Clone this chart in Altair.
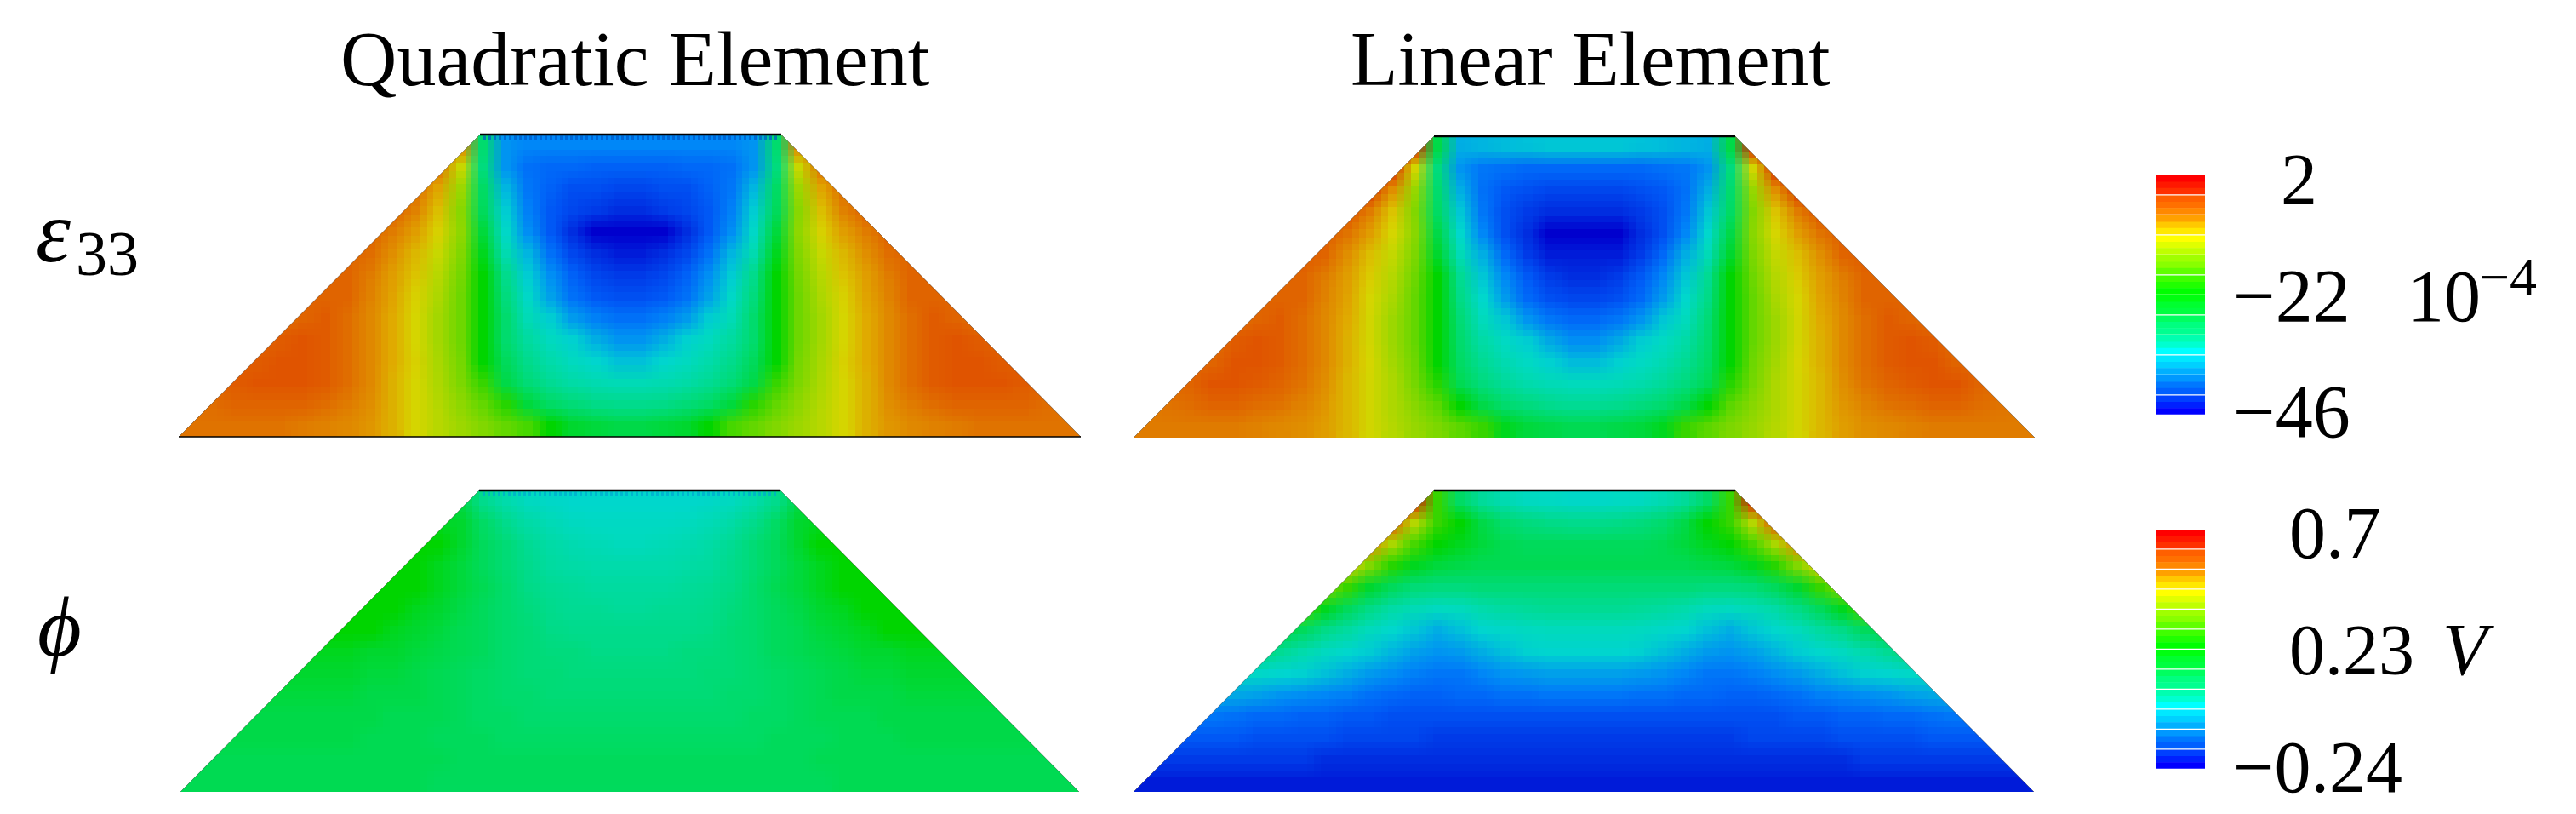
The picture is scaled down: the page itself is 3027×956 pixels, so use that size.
import altair as alt
import pandas as pd

# Field values, left half of each panel, top row first.
# Scale: 0 blue, 25 cyan, 50 green, 75 yellow, 100 red. Panels are mirror-symmetric.
EPS_QUAD = [
 [88]*13 + [42,14,12,12,12,12,12],
 [90]*12 + [72,40,14,9,8,8,7,7],
 [91]*11 + [83,64,43,19,10,7,5,5,4],
 [92]*10 + [88,79,61,44,23,11,6,4,3,2],
 [92]*9 + [89,84,76,62,47,27,13,6,2,0,0],
 [92]*8 + [91,86,80,72,60,49,32,19,9,4,2,1],
 [92]*7 + [92,89,84,78,69,58,50,38,23,13,7,4,3],
 [92]*6 + [92,92,88,83,76,67,57,50,40,27,16,9,6,5],
 [91]*5 + [92,93,91,87,82,75,65,57,50,42,31,23,15,11,9],
 [92]*4 + [93,94,93,91,87,82,75,65,57,50,42,35,29,24,18,14],
 [93]*4 + [94,94,93,91,87,82,76,66,58,50,44,38,33,29,25,21],
 [92,92,93,94,94,94,93,91,87,81,75,67,59,52,46,41,37,34,32,31],
 [90,91,92,92,92,92,91,89,86,81,75,68,62,56,51,47,43,41,39,38],
 [90,90,90,90,90,89,88,87,85,81,75,69,64,60,56,53,50,48,47,46],
]
EPS_LINEAR = [
 [98]*13 + [46,18,19,20,21,22,22],
 [97]*12 + [74,40,14,10,9,8,8,8],
 [96]*11 + [86,63,42,18,9,6,5,4,4],
 [94]*10 + [89,78,60,43,22,10,5,3,2,2],
 [93]*9 + [90,84,75,61,46,26,12,5,2,0,0],
 [93]*8 + [92,86,79,71,59,48,31,18,8,3,1,1],
 [92]*7 + [92,89,84,77,68,57,50,37,22,12,6,3,2],
 [92]*6 + [92,92,88,83,75,66,56,50,39,26,15,8,5,4],
 [91]*5 + [92,93,91,87,82,74,64,56,50,41,30,22,14,10,8],
 [91]*4 + [93,94,93,91,87,81,74,64,56,50,42,34,28,23,17,13],
 [92]*4 + [94,94,93,91,87,81,75,65,57,50,43,37,32,28,24,20],
 [91,91,92,94,94,93,92,90,86,80,74,67,58,51,45,40,36,33,31,30],
 [89,90,91,92,92,91,90,88,85,80,74,67,61,55,50,46,42,40,38,37],
 [89,89,89,89,89,88,87,86,84,80,74,68,63,59,55,52,49,47,46,45],
]
PHI_QUAD = [
 [46]*13 + [38,33,29,27,26,26,26],
 [49]*12 + [48,43,38,34,31,29,28,28],
 [50]*12 + [48,44,41,37,34,32,31,30],
 [50]*11 + [49,47,44,41,38,35,34,33,33],
 [50]*11 + [49,47,45,42,39,37,36,35,35],
 [50]*10 + [49,48,46,44,42,40,38,37,37,36],
 [50]*9 + [49,48,47,45,44,42,41,39,38,38,38],
 [49]*8 + [48,48,47,46,45,44,42,41,40,40,39,39],
 [48]*8 + [47,47,46,45,44,43,42,41,41,40,40,40],
 [47]*8 + [46,46,46,45,44,43,42,42,41,41,41,41],
 [46]*9 + [45,45,45,44,43,43,42,42,42,42,42],
 [46]*8 + [45,45,45,44,44,44,43,43,43,43,43,43],
 [45]*12 + [44,44,44,44,44,44,44,44],
 [45]*11 + [44,44,44,44,44,44,44,44,44],
]
PHI_LINEAR = [
 [98]*13 + [52,43,36,32,29,28,27],
 [92]*12 + [68,52,50,46,42,40,39,38],
 [86]*11 + [66,53,50,49,47,45,44,44,44],
 [76]*10 + [60,51,49,47,46,45,45,45,45,45],
 [60]*9 + [52,48,44,41,40,40,41,41,41,41,41],
 [53]*8 + [49,44,39,34,31,29,30,33,35,36,37,37],
 [47]*7 + [44,39,35,30,26,22,18,21,25,27,29,30,30],
 [41]*6 + [37,33,29,26,23,19,16,14,15,18,21,24,25,25],
 [29]*5 + [27,25,24,21,18,15,13,11,10,10,12,14,15,16,16],
 [18]*4 + [17,16,14,13,12,11,9,8,7,7,8,8,9,9,10,10],
 [10]*4 + [9,8,8,7,7,6,6,5,5,5,5,5,5,5,5,5],
 [6]*5 + [5,5,5,5,4,4,4,4,3,3,3,3,3,3,3],
 [3]*8 + [2]*12,
 [1]*20,
]

HEAT_STOPS = [0, 25, 50, 75, 100]
HEAT_COLORS = ["#0000d0", "#00d8d0", "#00d800", "#d8d800", "#d80000"]

LEGEND_SHADES = [
 ["#ff0000", "#ff1800", "#ff3000"], ["#ff6000", "#ff7000", "#ff8800"],
 ["#ffa000", "#ffc800", "#ffe800"], ["#ffff00", "#e0ff00", "#c0ff00"],
 ["#a0ff00", "#88ff00", "#60ff00"], ["#40ff00", "#20ff00", "#00ff00"],
 ["#00ff10", "#00ff30", "#00ff40"], ["#00ff60", "#00ff80", "#00ff90"],
 ["#00ffb0", "#00ffd0", "#00ffff"], ["#00e8ff", "#00d0ff", "#00b0ff"],
 ["#0098ff", "#0078ff", "#0060ff"], ["#0040ff", "#0020ff", "#0000ff"],
]

# panel: rows, bottom-left x, bottom-right x, top-left x, top-right x, top y, bottom y, bottom line
PANELS = [
 (EPS_QUAD, 210, 1270, 564, 918, 158, 513, True),
 (EPS_LINEAR, 1332, 2391, 1685, 2039, 160, 514, False),
 (PHI_QUAD, 212, 1268, 563, 917, 576, 930, False),
 (PHI_LINEAR, 1332, 2390, 1685, 2039, 576, 930, False),
]
LEGENDS = [(2534, 2591, 206, 488), (2534, 2591, 622, 904)]

# the dotted fringe below the top edge of the two quadratic panels
FRINGES = [(568, 914, 162, "#0058c8"), (567, 913, 580, "#00a8d0")]

ROMAN_TEXT = [
 ("Quadratic Element", 400, 100, 92), ("Linear Element", 1587, 100, 91),
 ("33", 89, 323, 74),
 ("2", 2680, 240, 86), ("−22", 2624, 377, 88), ("10", 2829, 377, 86),
 ("−4", 2913, 347, 64), ("−46", 2624, 513, 88),
 ("0.7", 2690, 655, 86), ("0.23", 2690, 792, 84), ("−0.24", 2624, 930, 86),
]
ITALIC_TEXT = [("ε", 42, 307, 104), ("ϕ", 44, 770, 100), ("V", 2870, 792, 86)]

# Each cell is drawn nine times, shifted by a fraction of a cell, and the copies are
# averaged through their opacity, so the grid reads as a smooth field.
SHIFTS = [-0.3, 0, 0.3]

X = alt.Scale(domain=[8, 3019], nice=False, zero=False)
Y = alt.Scale(domain=[948, 8], nice=False, zero=False)
ax = alt.X("x:Q", scale=X, axis=None)
ay = alt.Y("y:Q", scale=Y, axis=None)
ax2 = alt.X2("x2:Q")
ay2 = alt.Y2("y2:Q")
heat_color = alt.Color("v:Q", legend=None,
                       scale=alt.Scale(domain=HEAT_STOPS, range=HEAT_COLORS, clamp=True))

heat_layers, mask_layers, edge_layers, tops, bottoms = [], [], [], [], []
offsets = [(0, 0)] + [(sx, sy) for sy in SHIFTS for sx in SHIFTS if (sx, sy) != (0, 0)]
for k, (sx, sy) in enumerate(offsets, start=1):
    cells = []
    for rows, xl, xr, xtl, xtr, yt, yb, _ in PANELS:
        n_r, n_c = len(rows), len(rows[0]) * 2
        w, h = (xr - xl) / n_c, (yb - yt) / n_r
        for r, half in enumerate(rows):
            for c, v in enumerate(half + half[::-1]):
                x0 = round(max(xl, xl + (c + sx) * w))
                x1 = round(min(xr, xl + (c + 1 + sx) * w))
                y0 = round(max(yt, yt + (r + sy) * h))
                y1 = round(min(yb, yt + (r + 1 + sy) * h))
                if x1 > x0 and y1 > y0:
                    cells.append(dict(x=x0, x2=x1, y=y0, y2=y1, v=v))
    heat_layers.append(alt.Chart(pd.DataFrame(cells)).mark_rect(strokeWidth=0, opacity=1 / k).encode(
        x=ax, x2=ax2, y=ay, y2=ay2, color=heat_color))

for rows, xl, xr, xtl, xtr, yt, yb, bottom_line in PANELS:
    for tri, line in (
        ([dict(x=xl - 1, y=yt - 1, y2=yb + 1), dict(x=xl, y=yt - 1, y2=yb), dict(x=xtl, y=yt - 1, y2=yt)],
         [dict(x=xl, y=yb), dict(x=xtl, y=yt)]),
        ([dict(x=xtr, y=yt - 1, y2=yt), dict(x=xr, y=yt - 1, y2=yb), dict(x=xr + 1, y=yt - 1, y2=yb + 1)],
         [dict(x=xtr, y=yt), dict(x=xr, y=yb)]),
    ):
        mask_layers.append(alt.Chart(pd.DataFrame(tri)).mark_area(
            fill="white", opacity=1, orient="vertical", interpolate="linear").encode(x=ax, y=ay, y2=ay2))
        edge_layers.append(alt.Chart(pd.DataFrame(line)).mark_line(
            color="#000000", strokeWidth=1, opacity=0.35).encode(x=ax, y=ay))
    tops.append(dict(x=xtl, x2=xtr, y=yt))
    if bottom_line:
        bottoms.append(dict(x=xl, x2=xr, y=yb))

strips = []
for x0, x1, y0, y1 in LEGENDS:
    step = (y1 - y0) / len(LEGEND_SHADES)
    for b, shades in enumerate(LEGEND_SHADES):
        sub = (step - 1.2) / len(shades)
        for s, col in enumerate(shades):
            strips.append(dict(x=x0, x2=x1, y=y0 + b * step + s * sub,
                               y2=y0 + b * step + (s + 1) * sub + (0.5 if s < len(shades) - 1 else 0),
                               col=col))

fringe_layers = [
    alt.Chart(pd.DataFrame([dict(x=a, x2=b, y=y)])).mark_rule(
        color=col, strokeWidth=5, strokeDash=[3, 3], opacity=0.7).encode(x=ax, x2=ax2, y=ay)
    for a, b, y, col in FRINGES
]
top = alt.Chart(pd.DataFrame(tops)).mark_rule(color="black", strokeWidth=2.5).encode(x=ax, x2=ax2, y=ay)
bottom = alt.Chart(pd.DataFrame(bottoms)).mark_rule(color="black", strokeWidth=1.5).encode(x=ax, x2=ax2, y=ay)
legend = alt.Chart(pd.DataFrame(strips)).mark_rect(strokeWidth=0).encode(
    x=ax, x2=ax2, y=ay, y2=ay2, color=alt.Color("col:N", scale=None, legend=None),
)


def text_layer(items, **kw):
    df = pd.DataFrame(items, columns=["t", "x", "y", "s"])
    return alt.Chart(df).mark_text(font="Liberation Serif", align="left", baseline="alphabetic",
                                   color="black", **kw).encode(
        x=ax, y=ay, text="t:N", size=alt.Size("s:Q", scale=None, legend=None))


chart = alt.layer(
    *heat_layers, *mask_layers, *edge_layers, *fringe_layers, top, bottom, legend,
    text_layer(ROMAN_TEXT), text_layer(ITALIC_TEXT, fontStyle="italic"),
).resolve_scale(color="independent").properties(
    width=3011, height=940, padding=0,
).configure_view(stroke=None)

chart.save("out.html", embed_options={"renderer": "svg", "actions": False})
